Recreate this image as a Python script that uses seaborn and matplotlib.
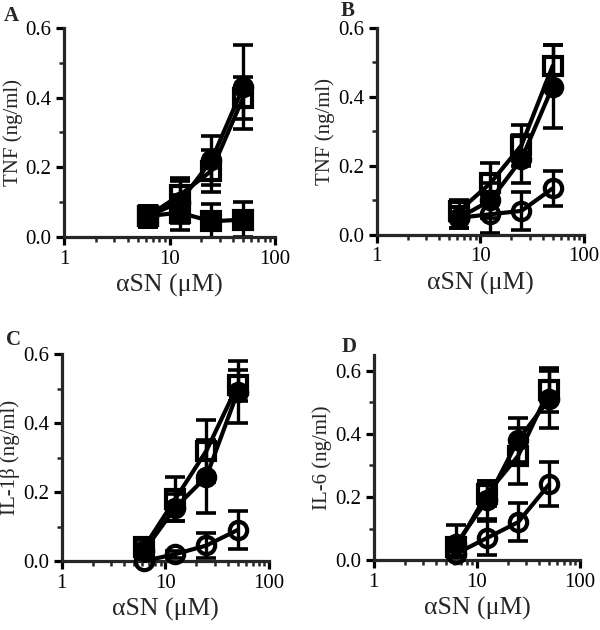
#!/usr/bin/env python3
"""
Cytokine release vs alpha-synuclein concentration, four panels
"""

import matplotlib
matplotlib.use('Agg')
import matplotlib.pyplot as plt
import matplotlib.ticker as mticker
import seaborn as sns

# concentrations (uM)
conc = [6.25, 12.5, 25, 50]

# Panel A - TNF
a_fcirc = [0.06, 0.10, 0.22, 0.43]
a_fcirc_err = [0.03, 0.06, 0.07, 0.12]
a_osq = [0.06, 0.12, 0.19, 0.40]
a_osq_err = [0.03, 0.05, 0.06, 0.06]
a_fsq = [0.06, 0.07, 0.045, 0.05]
a_fsq_err = [0.03, 0.05, 0.05, 0.05]

# Panel B - TNF
b_fcirc = [0.05, 0.10, 0.22, 0.43]
b_fcirc_err = [0.03, 0.05, 0.07, 0.12]
b_osq = [0.07, 0.15, 0.26, 0.49]
b_osq_err = [0.03, 0.06, 0.06, 0.06]
b_ocirc = [0.05, 0.06, 0.07, 0.135]
b_ocirc_err = [0.03, 0.055, 0.055, 0.05]

# Panel C - IL-1beta
c_fcirc = [0.03, 0.155, 0.245, 0.49]
c_fcirc_err = [0.02, 0.04, 0.105, 0.09]
c_osq = [0.04, 0.18, 0.32, 0.51]
c_osq_err = [0.02, 0.065, 0.09, 0.045]
c_ocirc = [0.0, 0.02, 0.045, 0.09]
c_ocirc_err = [0.01, 0.01, 0.035, 0.055]

# Panel D - IL-6
d_fcirc = [0.05, 0.19, 0.38, 0.51]
d_fcirc_err = [0.06, 0.06, 0.07, 0.09]
d_osq = [0.04, 0.21, 0.33, 0.54]
d_osq_err = [0.03, 0.04, 0.09, 0.07]
d_ocirc = [0.02, 0.07, 0.12, 0.24]
d_ocirc_err = [0.02, 0.055, 0.06, 0.07]

panel_letters = ['A', 'B', 'C', 'D']
ylabels = ['TNF (ng/ml)', 'TNF (ng/ml)', 'IL-1β (ng/ml)', 'IL-6 (ng/ml)']
xlabel = 'αSN (μM)'
ylims = [0.6, 0.6, 0.6, 0.65]

sns.set_style("ticks")
plt.rcParams['font.family'] = ['Liberation Serif', 'DejaVu Serif']

LW = 2.3


def draw_series(ax, y, err, marker, filled):
    face = 'black' if filled else 'none'
    ax.errorbar(conc, y, yerr=err, fmt='none', ecolor='black',
                elinewidth=2.4, capsize=7.5, capthick=2.6, zorder=2)
    sns.lineplot(x=conc, y=y, ax=ax, color='black', lw=3.0,
                 marker=marker, markersize=12.5, markerfacecolor=face,
                 markeredgecolor='black', markeredgewidth=3.0,
                 zorder=3, clip_on=False)


def style_axis(ax, ylabel, ytop):
    ax.set_xscale('log')
    ax.set_xlim(1, 100)
    ax.set_ylim(0, ytop)
    ax.xaxis.set_major_locator(mticker.FixedLocator([1, 10, 100]))
    ax.xaxis.set_major_formatter(mticker.FixedFormatter(['1', '10', '100']))
    ax.xaxis.set_minor_locator(mticker.LogLocator(base=10, subs=range(2, 10)))
    ax.xaxis.set_minor_formatter(mticker.NullFormatter())
    ax.yaxis.set_major_locator(mticker.MultipleLocator(0.2))
    ax.yaxis.set_minor_locator(mticker.MultipleLocator(0.1))
    ax.yaxis.set_major_formatter(mticker.FormatStrFormatter('%.1f'))
    for side in ['top', 'right']:
        ax.spines[side].set_visible(False)
    for side in ['left', 'bottom']:
        ax.spines[side].set_linewidth(LW)
    ax.tick_params(which='major', direction='out', length=6, width=LW,
                   labelsize=15, colors='black', pad=3)
    ax.tick_params(which='minor', direction='out', length=3.5, width=1.8)
    ax.set_xlabel(xlabel, fontsize=18.5, labelpad=4)
    ax.set_ylabel(ylabel, fontsize=15, labelpad=2)
    ax.grid(False)


fig = plt.figure(figsize=(6, 6.3), dpi=100)

positions = [
    [0.107, 0.6238, 0.351, 0.3318],
    [0.628, 0.6270, 0.345, 0.3286],
    [0.103, 0.1095, 0.345, 0.3285],
    [0.623, 0.1110, 0.344, 0.3255],
]
letter_pos = [(0.006, 0.990), (0.568, 0.998), (0.010, 0.476), (0.570, 0.465)]

axes = [fig.add_axes(p) for p in positions]

# Panel A
draw_series(axes[0], a_fsq, a_fsq_err, 's', True)
draw_series(axes[0], a_osq, a_osq_err, 's', False)
draw_series(axes[0], a_fcirc, a_fcirc_err, 'o', True)

# Panel B
draw_series(axes[1], b_ocirc, b_ocirc_err, 'o', False)
draw_series(axes[1], b_osq, b_osq_err, 's', False)
draw_series(axes[1], b_fcirc, b_fcirc_err, 'o', True)

# Panel C
draw_series(axes[2], c_ocirc, c_ocirc_err, 'o', False)
draw_series(axes[2], c_osq, c_osq_err, 's', False)
draw_series(axes[2], c_fcirc, c_fcirc_err, 'o', True)

# Panel D
draw_series(axes[3], d_ocirc, d_ocirc_err, 'o', False)
draw_series(axes[3], d_osq, d_osq_err, 's', False)
draw_series(axes[3], d_fcirc, d_fcirc_err, 'o', True)

for ax, letter, ylab, ytop, lp in zip(axes, panel_letters, ylabels, ylims, letter_pos):
    style_axis(ax, ylab, ytop)
    fig.text(lp[0], lp[1], letter, fontsize=15, fontweight='bold',
             ha='left', va='top')

fig.savefig('out.png', dpi=100)
plt.close(fig)
